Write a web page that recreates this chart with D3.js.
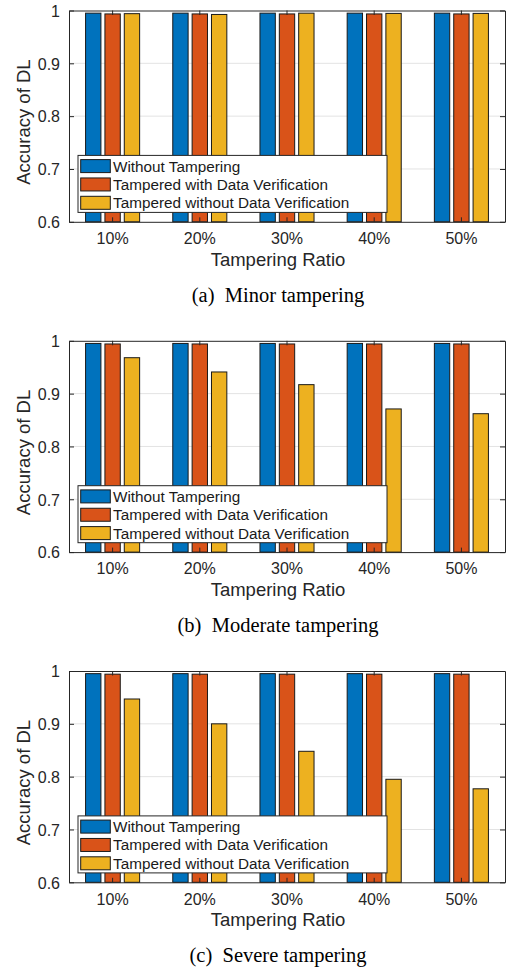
<!DOCTYPE html>
<html>
<head>
<meta charset="utf-8">
<script src="https://cdn.jsdelivr.net/npm/d3@7"></script>
<style>
  html, body { margin: 0; padding: 0; background: #ffffff; }
  svg { display: block; }
</style>
</head>
<body>
<svg id="chart" width="510" height="970"></svg>
<script>
// ---------------- data ----------------
const categories = ["10%", "20%", "30%", "40%", "50%"];
const seriesNames = ["Without Tampering", "Tampered with Data Verification", "Tampered without Data Verification"];
const yTicks = [0.6, 0.7, 0.8, 0.9, 1];
const yTickLabels = ["0.6", "0.7", "0.8", "0.9", "1"];
const captions = ["(a)  Minor tampering", "(b)  Moderate tampering", "(c)  Severe tampering"];

// (a) Minor tampering
const minorWithout   = [0.995, 0.995, 0.995, 0.995, 0.995];
const minorWithVer   = [0.9935, 0.9935, 0.9935, 0.9935, 0.9935];
const minorWithoutVer= [0.994, 0.9925, 0.995, 0.9945, 0.9945];
// (b) Moderate tampering
const moderateWithout   = [0.995, 0.995, 0.995, 0.995, 0.995];
const moderateWithVer   = [0.994, 0.994, 0.994, 0.994, 0.994];
const moderateWithoutVer= [0.968, 0.941, 0.917, 0.871, 0.862];
// (c) Severe tampering
const severeWithout   = [0.995, 0.995, 0.995, 0.995, 0.995];
const severeWithVer   = [0.994, 0.994, 0.994, 0.994, 0.994];
const severeWithoutVer= [0.947, 0.900, 0.848, 0.795, 0.777];

const colors = ["#0072BD", "#D95319", "#EDB120"];

const panels = [
  [minorWithout, minorWithVer, minorWithoutVer],
  [moderateWithout, moderateWithVer, moderateWithoutVer],
  [severeWithout, severeWithVer, severeWithoutVer]
];

// ---------------- layout ----------------
const svg = d3.select("#chart");
const plotLeft = 69, plotRight = 505, plotH = 211.3;
const panelTops = [10.5, 340.8, 671];
const axisColor = "#262626";
const sans = "'Liberation Sans', Arial, Helvetica, sans-serif";
const serif = "'Liberation Serif', 'Times New Roman', serif";

panels.forEach((series, pi) => {
  const top = panelTops[pi];
  const bottom = top + plotH;
  const g = svg.append("g");

  const x0 = d3.scaleBand().domain(categories).range([plotLeft, plotRight]).padding(0);
  const x1 = d3.scaleBand().domain(seriesNames)
      .range([x0.bandwidth() * 0.19, x0.bandwidth() * 0.81]).paddingInner(0.207).paddingOuter(0);
  const y = d3.scaleLinear().domain([0.6, 1]).range([bottom, top]);

  // grid
  g.append("g").selectAll("line").data(yTicks.slice(1, -1)).join("line")
    .attr("x1", plotLeft).attr("x2", plotRight)
    .attr("y1", d => y(d)).attr("y2", d => y(d))
    .attr("stroke", "#e3e3e3").attr("stroke-width", 1);

  // bars
  const rows = categories.map((c, i) => ({ c, vals: series.map((s, k) => ({ k, name: seriesNames[k], v: s[i] })) }));
  const grp = g.append("g").selectAll("g").data(rows).join("g")
    .attr("transform", d => `translate(${x0(d.c)},0)`);
  grp.selectAll("rect").data(d => d.vals).join("rect")
    .attr("x", d => x1(d.name))
    .attr("width", x1.bandwidth())
    .attr("y", d => y(d.v))
    .attr("height", d => y(0.6) - y(d.v))
    .attr("fill", d => colors[d.k])
    .attr("stroke", "#1a1a1a").attr("stroke-width", 1);

  // axes (box)
  const yAxisL = d3.axisLeft(y).tickValues(yTicks).tickFormat((d, i) => yTickLabels[i]).tickSizeInner(-5).tickSizeOuter(0).tickPadding(10);
  const yAxisR = d3.axisRight(y).tickValues(yTicks).tickFormat("").tickSizeInner(-5).tickSizeOuter(0);
  const xAxisB = d3.axisBottom(x0).tickSizeInner(-4.5).tickSizeOuter(0).tickPadding(10);
  const xAxisT = d3.axisTop(x0).tickFormat("").tickSizeInner(-4.5).tickSizeOuter(0);

  const styleAxis = sel => {
    sel.selectAll("path").attr("stroke", axisColor).attr("stroke-width", 1);
    sel.selectAll("line").attr("stroke", axisColor).attr("stroke-width", 1);
    sel.selectAll("text").attr("fill", axisColor).style("font-family", sans).style("font-size", "16px");
  };

  g.append("g").attr("transform", `translate(${plotLeft},0)`).call(yAxisL).call(styleAxis)
    .selectAll("text").attr("x", -9).attr("dy", "0.36em");
  g.append("g").attr("transform", `translate(${plotRight},0)`).call(yAxisR).call(styleAxis);
  g.append("g").attr("transform", `translate(0,${bottom})`).call(xAxisB).call(styleAxis)
    .selectAll("text").attr("y", 11).attr("dy", "0.71em");
  g.append("g").attr("transform", `translate(0,${top})`).call(xAxisT).call(styleAxis);

  // axis titles
  g.append("text")
    .attr("x", 278).attr("y", bottom + 44)
    .attr("text-anchor", "middle")
    .style("font-family", sans).style("font-size", "18.5px")
    .attr("fill", axisColor)
    .text("Tampering Ratio");
  g.append("text")
    .attr("transform", `translate(30,${(top + bottom) / 2 + 6}) rotate(-90)`)
    .attr("text-anchor", "middle")
    .style("font-family", sans).style("font-size", "18.5px")
    .attr("fill", axisColor)
    .text("Accuracy of DL");

  // legend
  const lgX = 78, lgW = 309, lgH = 57;
  const lgY = bottom - 9.4 - lgH;
  const lg = g.append("g").attr("transform", `translate(${lgX},${lgY})`);
  lg.append("rect").attr("width", lgW).attr("height", lgH)
    .attr("fill", "#ffffff").attr("stroke", axisColor).attr("stroke-width", 1);
  const ly = d3.scalePoint().domain(seriesNames).range([10.7, 47.4]);
  const item = lg.selectAll("g.item").data(seriesNames).join("g").attr("class", "item")
    .attr("transform", d => `translate(0,${ly(d)})`);
  item.append("rect").attr("x", 2.7).attr("y", -6.5).attr("width", 29.6).attr("height", 13)
    .attr("fill", (d, i) => colors[i]).attr("stroke", "#1a1a1a").attr("stroke-width", 1);
  item.append("text").attr("x", 35).attr("dy", "0.36em")
    .style("font-family", sans).style("font-size", "15.3px")
    .attr("fill", "#1a1a1a")
    .text(d => d);

  // caption
  g.append("text")
    .attr("x", 278).attr("y", bottom + 80)
    .attr("text-anchor", "middle")
    .style("font-family", serif).style("font-size", "20.5px")
    .style("white-space", "pre")
    .attr("xml:space", "preserve")
    .attr("fill", "#000")
    .text(captions[pi]);
});
</script>
</body>
</html>
